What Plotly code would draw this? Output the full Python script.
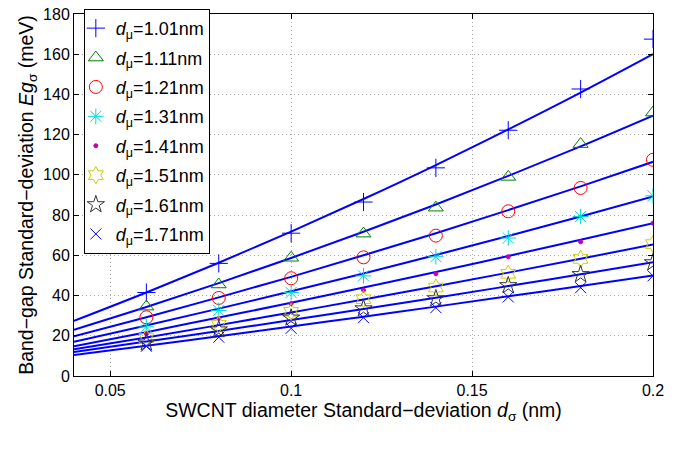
import plotly.graph_objects as go

# data
x_pts = [0.06, 0.08, 0.10, 0.12, 0.14, 0.16, 0.18, 0.20]
x_fit = [0.04, 0.06, 0.08, 0.10, 0.12, 0.14, 0.16, 0.18, 0.20]
labels = ["1.01", "1.11", "1.21", "1.31", "1.41", "1.51", "1.61", "1.71"]

pts_101 = [41.5, 56.0, 71.0, 86.5, 103.5, 122.2, 142.7, 167.5]
pts_111 = [34.5, 45.5, 58.8, 70.8, 83.7, 99.0, 115.3, 131.0]
pts_121 = [29.2, 38.8, 48.6, 59.0, 69.8, 81.9, 93.5, 107.5]
pts_131 = [24.4, 32.6, 41.5, 49.8, 59.3, 68.6, 79.3, 89.6]
pts_141 = [21.0, 28.6, 36.0, 42.7, 50.8, 59.3, 66.7, 76.0]
pts_151 = [18.9, 25.5, 31.9, 38.2, 44.0, 50.8, 58.2, 65.6]
pts_161 = [16.5, 23.0, 28.9, 33.5, 38.5, 45.0, 50.5, 56.4]
pts_171 = [14.8, 19.3, 23.7, 29.0, 34.0, 39.3, 43.9, 49.8]

fit_101 = [27.4, 41.5, 56.3, 71.8, 88.0, 104.9, 122.6, 140.9, 160.0]
fit_111 = [23.0, 34.3, 46.2, 58.7, 71.7, 85.3, 99.5, 114.2, 129.5]
fit_121 = [19.7, 29.2, 39.1, 49.3, 60.0, 71.0, 82.5, 94.3, 106.5]
fit_131 = [17.0, 25.1, 33.5, 42.1, 51.0, 60.2, 69.6, 79.3, 89.3]
fit_141 = [14.8, 21.8, 29.1, 36.4, 44.0, 51.7, 59.7, 67.7, 76.0]
fit_151 = [13.3, 19.2, 25.3, 31.6, 38.0, 44.6, 51.4, 58.3, 65.4]
fit_161 = [11.9, 17.1, 22.4, 27.8, 33.3, 38.9, 44.7, 50.6, 56.6]
fit_171 = [10.4, 15.0, 19.8, 24.6, 29.5, 34.5, 39.6, 44.7, 50.0]

pts_all = [pts_101, pts_111, pts_121, pts_131, pts_141, pts_151, pts_161, pts_171]
fit_all = [fit_101, fit_111, fit_121, fit_131, fit_141, fit_151, fit_161, fit_171]

x_ticks = [0.05, 0.1, 0.15, 0.2]
x_ticklabels = ["0.05", "0.1", "0.15", "0.2"]
y_ticks = [0, 20, 40, 60, 80, 100, 120, 140, 160, 180]

# styles
symbols = ["cross-thin-open", "triangle-up-open", "circle-open", "asterisk-open",
           "circle", "hexagram-open", "star-open", "x-thin-open"]
colors = ["#0000ff", "#008000", "#ff0000", "#00d8d8", "#c000c0", "#cccc00", "#333333", "#0000ff"]
sizes = [13, 13, 13, 13, 4, 13, 13, 11]

FONT = "Liberation Sans, Arial, sans-serif"

fig = go.Figure()

for f in fit_all:
    fig.add_trace(go.Scatter(x=x_fit, y=f, mode="lines", line=dict(color="#0000ff", width=2),
                             line_shape="spline", showlegend=False, hoverinfo="skip"))

for i, (lab, p, sym, col, sz) in enumerate(zip(labels, pts_all, symbols, colors, sizes)):
    fig.add_trace(go.Scatter(
        x=x_pts, y=p, mode="markers",
        marker=dict(symbol=sym, color=col, size=sz, line=dict(color=col, width=1)),
        name=f"<i>d</i><sub>μ</sub>=" + lab + "nm",
        legendgroup=f"g{i}",
    ))

GRID = dict(showgrid=True, gridcolor="#a8a8a8", griddash="1px,3px", gridwidth=1,
            showline=True, linecolor="black", linewidth=1, mirror="ticks",
            ticks="inside", ticklen=5, tickcolor="black", zeroline=False,
            tickfont=dict(size=16), ticklabeloverflow="allow")

fig.update_layout(
    width=695, height=461,
    margin=dict(l=74, r=42, t=6, b=85),
    paper_bgcolor="white", plot_bgcolor="white",
    font=dict(family=FONT, color="black", size=16),
    legend=dict(
        x=0.017, y=1.014, xanchor="left", yanchor="top",
        bgcolor="white", bordercolor="black", borderwidth=1,
        font=dict(family=FONT, size=18, color="black"),
        tracegroupgap=3, itemwidth=30, indentation=-9, maxheight=440,
    ),
    xaxis=dict(
        range=[0.04, 0.2], tickvals=x_ticks, ticktext=x_ticklabels,
        title=dict(text="SWCNT diameter Standard−deviation <i>d</i><sub>σ</sub> (nm)",
                   font=dict(size=19.5), standoff=2),
        **GRID,
    ),
    yaxis=dict(
        range=[0, 180], tickvals=y_ticks,
        title=dict(text="Band−gap Standard−deviation <i>Eg</i><sub>σ</sub> (meV)",
                   font=dict(size=19.5), standoff=4),
        **GRID,
    ),
)

fig.write_html("out.html")
